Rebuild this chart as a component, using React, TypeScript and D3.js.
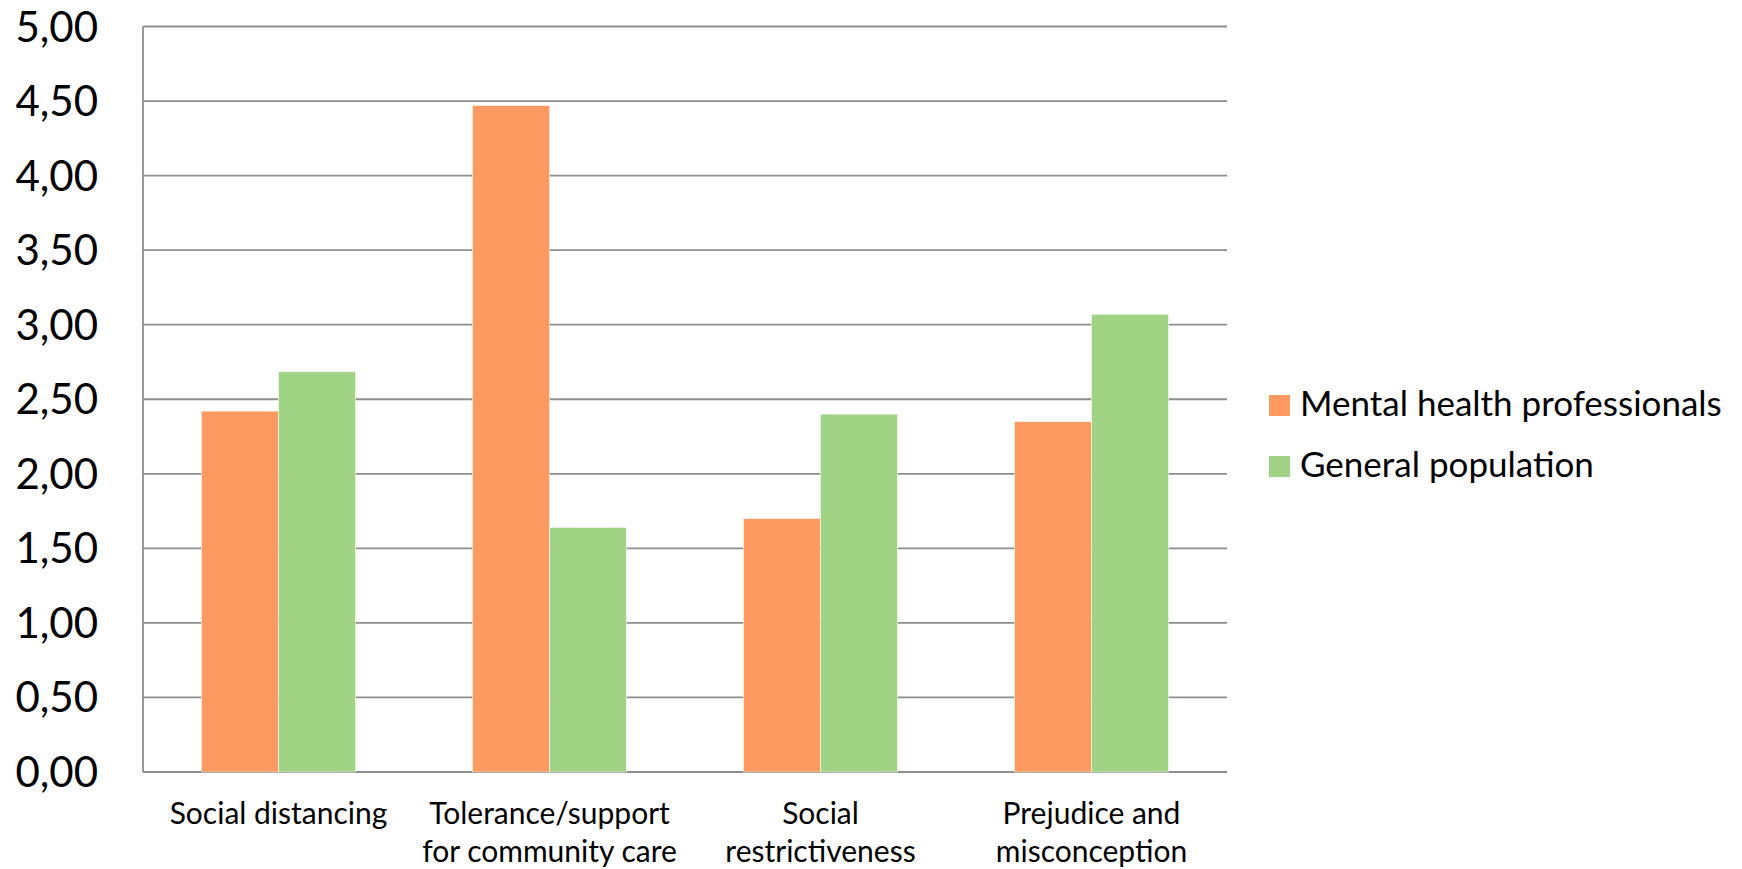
import React from "react";
import * as d3 from "d3";

const categories: string[][] = [
  ["Social distancing"],
  ["Tolerance/support", "for community care"],
  ["Social", "restrictiveness"],
  ["Prejudice and", "misconception"],
];
const seriesNames = ["Mental health professionals", "General population"];
const professionals = [2.42, 4.47, 1.7, 2.35];
const generalPop = [2.685, 1.64, 2.4, 3.07];
const yTicks = [0, 0.5, 1, 1.5, 2, 2.5, 3, 3.5, 4, 4.5, 5];
const colors = ["#FC9A61", "#A1D385"];

const W = 1742;
const H = 869;
const plot = { left: 143, right: 1227, top: 26.5, bottom: 772 };
const FONT = "Lato, 'Open Sans', sans-serif";

export default function App() {
  const x = d3
    .scaleBand<number>()
    .domain(categories.map((_, i) => i))
    .range([plot.left, plot.right])
    .paddingInner(0)
    .paddingOuter(0);
  const inner = d3
    .scaleBand<number>()
    .domain([0, 1])
    .range([0, x.bandwidth()])
    .paddingInner(0)
    .paddingOuter(0.76);
  const y = d3.scaleLinear().domain([0, 5]).range([plot.bottom, plot.top]);
  const series = [professionals, generalPop];
  const fmt = (v: number) => v.toFixed(2).replace(".", ",");

  return (
    <div style={{ position: "absolute", left: 0, top: 0 }}>
      <svg width={W} height={H} style={{ display: "block", background: "#fff" }}>
        {yTicks.map((t) => (
          <line
            key={"g" + t}
            x1={plot.left}
            x2={plot.right}
            y1={y(t)}
            y2={y(t)}
            stroke="#8E8E8E"
            strokeWidth={1.8}
          />
        ))}
        <line x1={plot.left} x2={plot.left} y1={plot.top} y2={plot.bottom} stroke="#8E8E8E" strokeWidth={1.8} />
        {yTicks.map((t) => (
          <text
            key={"t" + t}
            x={98}
            y={y(t) + 15}
            textAnchor="end"
            fontFamily={FONT}
            fontSize={42}
            fill="#000"
          >
            {fmt(t)}
          </text>
        ))}
        {series.map((vals, s) =>
          vals.map((v, i) => (
            <rect
              key={s + "-" + i}
              x={(x(i) as number) + (inner(s) as number)}
              y={y(v)}
              width={inner.bandwidth()}
              height={plot.bottom - y(v)}
              fill={colors[s]}
              stroke="#fff"
              strokeOpacity={0.5}
              strokeWidth={1}
            />
          ))
        )}
        {categories.map((lines, i) =>
          lines.map((ln, j) => (
            <text
              key={i + "-" + j}
              x={(x(i) as number) + x.bandwidth() / 2}
              y={824 + j * 37.5}
              textAnchor="middle"
              fontFamily={FONT}
              fontSize={30}
              fill="#000"
            >
              {ln}
            </text>
          ))
        )}
        {seriesNames.map((name, s) => (
          <g key={name}>
            <rect x={1269} y={395 + s * 61} width={21} height={21} fill={colors[s]} />
            <text x={1300} y={416 + s * 61} fontFamily={FONT} fontSize={35} fill="#000">
              {name}
            </text>
          </g>
        ))}
      </svg>
    </div>
  );
}
